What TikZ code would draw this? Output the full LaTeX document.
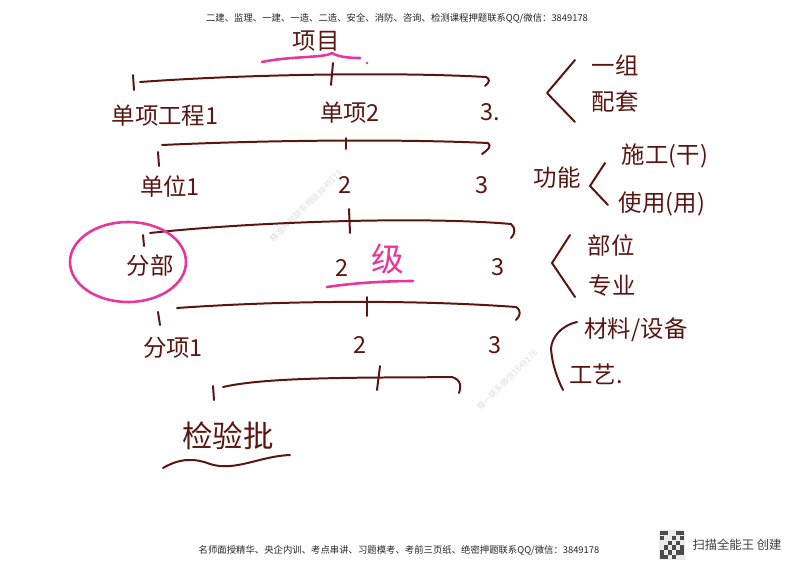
\documentclass[tikz,border=0pt]{standalone}
\usepackage{fontspec}
\setmainfont{Noto Sans CJK SC}
\definecolor{ink}{HTML}{5A1712}
\definecolor{marker}{HTML}{E8379A}

\begin{document}
\begin{tikzpicture}[x=0.3mm, y=-0.3mm, line cap=round, line join=round,
    pen/.style={draw=ink, line width=1.7pt},
    hl/.style={draw=marker, line width=2.2pt},
    word/.style={text=ink, inner sep=0pt, font=\fontsize{20}{22}\selectfont},
    bigword/.style={text=ink, inner sep=0pt, font=\fontsize{26}{28}\selectfont},
    pinkword/.style={text=marker, inner sep=0pt, font=\fontsize{28}{30}\selectfont},
    fine/.style={text=black!85, inner sep=0pt, font=\fontsize{8}{9}\selectfont},
    wmark/.style={text=black!13, inner sep=0pt, rotate=45, font=\fontsize{7}{8}\selectfont}]

  \useasboundingbox[fill=white] (0,0) rectangle (800,566);

  %%%%%%%%%%%%%%%%%%%%%%%%%%%%%%%%%%%%%%%%%%%%%%%%%
  % Header, footer and watermarks
  \node[fine] (hdr) at (397,18) {二建、监理、一建、一造、二造、安全、消防、咨询、检测课程押题联系QQ/微信：3849178};
  \node[fine] (ftr) at (399,550) {名师面授精华、央企内训、考点串讲、习题模考、考前三页纸、绝密押题联系QQ/微信：3849178};
  \node[text=black!75, inner sep=0pt, font=\fontsize{10.5}{12}\selectfont] (scan) at (737,545) {扫描全能王 创建};
  \node[wmark] (wm1) at (306,206) {精准押题联系微信3849178};
  \node[wmark] (wm2) at (507,380) {唯一联系微信3849178};

  % QR code
  \fill[black!8] (659,530) rectangle (685,560);
  \foreach \i/\j in {0/0,0/1,1/0,4/0,5/0,5/1,0/4,0/5,1/5,2/2,3/3,2/4,4/2,3/5,5/4,4/4,1/3,3/1,5/3}
    \fill[black!70] (660+\i*4,531+\j*4.8) rectangle ++(3.6,4.4);

  %%%%%%%%%%%%%%%%%%%%%%%%%%%%%%%%%%%%%%%%%%%%%%%%%
  % Level 0
  \node[word] (proj) at (316,41) {项目};
  \draw[hl] (262,62) .. controls (290,56) and (325,58) .. (332,53)
            .. controls (338,57) and (350,58) .. (360,58);
  \fill[marker] (367,63) circle (1.3);

  %%%%%%%%%%%%%%%%%%%%%%%%%%%%%%%%%%%%%%%%%%%%%%%%%
  \begin{scope}
    % Bracket
    \coordinate (b1l) at (140,82);
    \coordinate (b1r) at (486,77);
    \draw[pen] (b1l) .. controls (250,74) and (400,72) .. (b1r)
               .. controls (490,79) and (490,82) .. (485,86);
    \draw[pen] (133,75) -- (134,90);
    \draw[pen] (333,63) -- (331,85);

    % Labels
    \node[word] (sx1) at (165,116) {单项工程1};
    \node[word] (sx2) at (350,113) {单项2};
    \node[word] (sx3) at (490,112) {3.};
  \end{scope}

  %%%%%%%%%%%%%%%%%%%%%%%%%%%%%%%%%%%%%%%%%%%%%%%%%
  \begin{scope}
    % Bracket
    \coordinate (b2l) at (162,145);
    \coordinate (b2r) at (488,143);
    \draw[pen] (b2l) .. controls (270,140) and (400,139) .. (b2r)
               .. controls (492,146) and (488,150) .. (482,154);
    \draw[pen] (158,152) -- (159,166);
    \draw[pen] (346,138) -- (346,149);

    % Labels
    \node[word] (dw1) at (170,186) {单位1};
    \node[word] (dw2) at (345,185) {2};
    \node[word] (dw3) at (482,185) {3};
  \end{scope}

  %%%%%%%%%%%%%%%%%%%%%%%%%%%%%%%%%%%%%%%%%%%%%%%%%
  \begin{scope}
    % Bracket
    \coordinate (b3l) at (150,233);
    \coordinate (b3r) at (511,224);
    \draw[pen] (b3l) .. controls (250,222) and (420,216) .. (b3r)
               .. controls (516,228) and (515,234) .. (511,238);
    \draw[pen] (143,235) -- (144,246);
    \draw[pen] (349,209) -- (350,233);

    % Labels
    \node[word] (fb1) at (150,266) {分部};
    \draw[hl] (128,262) ellipse [x radius=58, y radius=40];
    \node[word] (fb2) at (342,268) {2};
    \node[pinkword] (fbx) at (388,259) {级};
    \draw[hl] (327,287) .. controls (360,282) and (395,281) .. (413,281);
    \node[word] (fb3) at (498,267) {3};
  \end{scope}

  %%%%%%%%%%%%%%%%%%%%%%%%%%%%%%%%%%%%%%%%%%%%%%%%%
  \begin{scope}
    % Bracket
    \coordinate (b4l) at (177,308);
    \coordinate (b4r) at (516,307);
    \draw[pen] (b4l) .. controls (290,300) and (420,300) .. (b4r)
               .. controls (522,311) and (520,316) .. (516,320);
    \draw[pen] (158,312) -- (160,325);
    \draw[pen] (367,297) -- (367,316);

    % Labels
    \node[word] (fx1) at (173,348) {分项1};
    \node[word] (fx2) at (360,345) {2};
    \node[word] (fx3) at (495,345) {3};
  \end{scope}

  %%%%%%%%%%%%%%%%%%%%%%%%%%%%%%%%%%%%%%%%%%%%%%%%%
  \begin{scope}
    % Bracket
    \coordinate (b5l) at (223,387);
    \coordinate (b5r) at (452,377);
    \draw[pen] (b5l) .. controls (270,376) and (380,378) .. (b5r)
               .. controls (462,380) and (461,388) .. (459,393);
    \draw[pen] (213,386) -- (214,400);
    \draw[pen] (380,366) -- (377,390);

    % Labels
    \node[bigword] (jyp) at (228,436) {检验批};
    \draw[pen] (163,468) .. controls (180,458) and (195,458) .. (210,464)
               .. controls (235,472) and (260,456) .. (290,455);
  \end{scope}

  %%%%%%%%%%%%%%%%%%%%%%%%%%%%%%%%%%%%%%%%%%%%%%%%%
  % Notes on the right
  \draw[pen] (575,60) -- (547,93) -- (575,122);
  \node[word] (n1a) at (615,65) {一组};
  \node[word] (n1b) at (615,102) {配套};

  \node[word] (gn) at (557,178) {功能};
  \draw[pen] (605,163) -- (590,186) -- (608,205);
  \node[word] (n2a) at (665,156) {施工(干)};
  \node[word] (n2b) at (662,204) {使用(用)};

  \draw[pen] (570,235) -- (552,263) -- (575,297);
  \node[word] (n3a) at (611,245) {部位};
  \node[word] (n3b) at (612,286) {专业};

  \draw[pen] (577,322) .. controls (560,326) and (552,338) .. (551,348)
             .. controls (552,365) and (558,380) .. (563,390);
  \node[word] (n4a) at (636,330) {材料/设备};
  \node[word] (n4b) at (596,374) {工艺.};

\end{tikzpicture}
\end{document}
